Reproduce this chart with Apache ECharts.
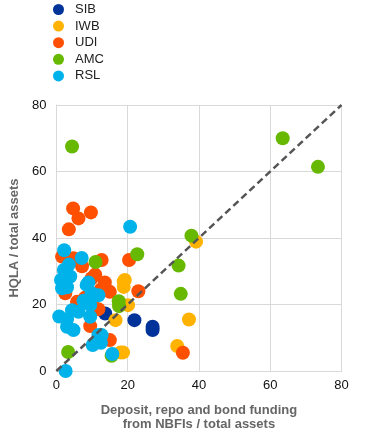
<!DOCTYPE html>
<html><head><meta charset="utf-8">
<script src="https://cdn.jsdelivr.net/npm/echarts@6/dist/echarts.min.js"></script>
<style>html,body{margin:0;padding:0;background:#fff}#c{width:381px;height:438px}</style>
</head><body><div id="c"></div>
<script>
var seriesNames = ['SIB','IWB','UDI','AMC','RSL'];
var seriesColors = ['#003399','#FFB300','#FF4F00','#66B800','#00B2EA'];
var xTicks = [0,20,40,60,80];
var yTicks = [0,20,40,60,80];
var diagonal = [[0,0],[80,80]];

var SIB = [[21.9,15.3],[27.0,13.3],[27.0,12.3],[13.7,17.3]];
var IWB = [[39.2,38.9],[19.2,27.4],[18.9,26.9],[18.9,25.3],[20.1,19.8],[16.6,15.3],[37.2,15.5],[33.9,7.5],[18.0,5.6],[18.7,5.6]];
var UDI = [[4.7,48.9],[6.2,45.9],[9.7,47.7],[3.5,42.6],[20.4,33.4],[12.7,33.4],[1.6,34.4],[4.8,33.9],[7.2,31.5],
  [10.9,29.0],[13.6,26.6],[9.9,27.9],[15.0,23.8],[2.5,23.4],[23.0,24.0],[9.9,20.4],[5.8,20.8],[11.8,18.6],
  [9.5,13.5],[15.0,9.3],[35.5,5.5],[12.5,24.5],[8.0,22.0]];
var AMC = [[4.4,67.5],[63.5,70.0],[73.4,61.4],[37.9,40.7],[22.7,35.1],[11.0,32.8],[34.3,31.7],[34.9,23.2],
  [17.5,21.0],[17.6,19.5],[3.3,5.7],[15.5,4.6]];
var RSL = [[20.7,43.4],[2.2,36.3],[7.1,34.0],[3.5,32.0],[2.1,30.4],[3.9,28.4],[1.3,27.4],[9.0,26.6],[8.5,25.9],
  [3.0,25.2],[1.6,24.9],[9.9,23.4],[11.8,22.8],[7.6,21.1],[9.5,19.8],[4.4,18.3],[6.2,17.8],[0.8,16.4],[9.5,16.3],
  [3.0,15.6],[3.0,13.3],[4.8,12.3],[12.7,10.8],[11.8,10.8],[12.5,8.5],[10.2,7.8],[15.7,5.1],[2.6,0]];

var dataBySeries = [SIB, IWB, UDI, AMC, RSL];

var chart = echarts.init(document.getElementById('c'), null, {renderer:'canvas'});
var series = seriesNames.map(function(n,i){
  return {name:n, type:'scatter', data:dataBySeries[i], symbolSize:14,
    itemStyle:{color:seriesColors[i], opacity:1}, z:2+i};
});
series.push({name:'diag', type:'line', data:diagonal, showSymbol:false, symbol:'none', silent:true,
  lineStyle:{color:'#555555', width:2.5, type:[7,4]}, z:10});

chart.setOption({
  animation:false,
  backgroundColor:'#ffffff',
  legend:{data:seriesNames, orient:'vertical', left:48, top:-3, icon:'circle', itemWidth:11, itemHeight:11,
    itemGap:1.6, textStyle:{fontFamily:'Liberation Sans, Arial', fontSize:13, color:'#222', lineHeight:15, padding:[0,0,0,6]}},
  grid:{left:52.5, right:39.5, top:105, bottom:67, containLabel:false},
  xAxis:{type:'value', min:0, max:80, interval:20,
    axisLine:{show:true, lineStyle:{color:'#d9d9d9'}}, axisTick:{show:false},
    splitLine:{lineStyle:{color:'#d9d9d9', width:1}},
    axisLabel:{color:'#111', fontFamily:'Liberation Sans, Arial', fontSize:13, margin:8},
    name:'Deposit, repo and bond funding\nfrom NBFIs / total assets', nameLocation:'middle', nameGap:32,
    nameTextStyle:{color:'#666', fontWeight:'bold', fontFamily:'Liberation Sans, Arial', fontSize:13, lineHeight:14}},
  yAxis:{type:'value', min:0, max:80, interval:20,
    axisLine:{show:true, lineStyle:{color:'#d9d9d9'}}, axisTick:{show:false},
    splitLine:{lineStyle:{color:'#d9d9d9', width:1}},
    axisLabel:{color:'#111', fontFamily:'Liberation Sans, Arial', fontSize:13, margin:10},
    name:'HQLA / total assets', nameLocation:'middle', nameGap:28, nameRotate:90,
    nameTextStyle:{color:'#666', fontWeight:'bold', fontFamily:'Liberation Sans, Arial', fontSize:13}},
  series:series
});
</script></body></html>
